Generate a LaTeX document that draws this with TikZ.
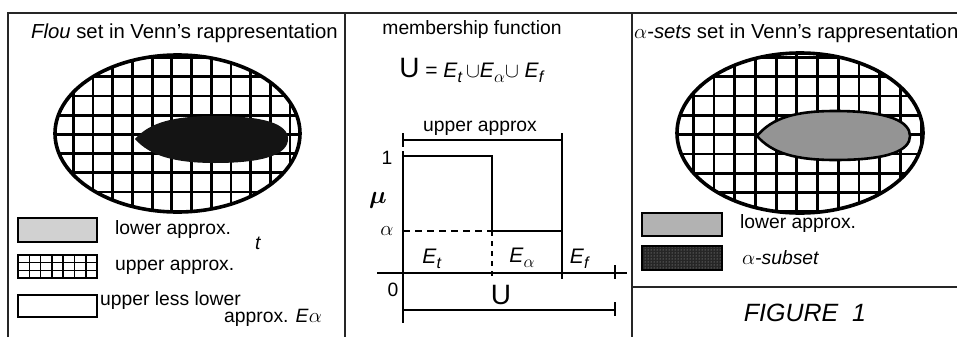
\documentclass[tikz,border=0pt]{standalone}
\usepackage{fontspec}
\setmainfont{Liberation Sans}
\usetikzlibrary{patterns}
\newcommand\subsc[1]{\raisebox{-0.45ex}{\fontsize{16}{16}\selectfont #1}}
\begin{document}
\begin{tikzpicture}[x=1pt,y=-1pt,
  frame/.style={line width=2.4pt, black!85},
  gridln/.style={line width=2.8pt},
  rim/.style={line width=3.6pt},
  axln/.style={line width=1.5pt},
  txt/.style={font=\fontsize{19.3}{22}\selectfont, inner sep=0pt},
  ttl/.style={font=\fontsize{20.3}{23}\selectfont, inner sep=0pt},
  lbl/.style={font=\fontsize{21}{23}\selectfont, inner sep=0pt},
  bigtxt/.style={font=\fontsize{21}{24}\selectfont, inner sep=0pt},
  lbox/.style={draw=black, line width=1.6pt}]
\useasboundingbox (0,0) rectangle (957,337);
% frame
\draw[frame] (8,337) -- (8,13) -- (957,13);
\draw[frame] (345,13) -- (345,337);
\draw[frame] (632,13) -- (632,337);
\draw[frame] (632,287) -- (957,287);

% ---------- panel 1 ----------
\node[ttl, anchor=west] (t1) at (31,33) {\textit{Flou} set in Venn's rappresentation};
\begin{scope}
  \clip (177.5,133.5) ellipse [x radius=122.5, y radius=78.5];
  \foreach \i in {-1,...,12} \draw[gridln] ({73.3+19.7*\i},50) -- ++(0,170);
  \foreach \j in {-2,...,8} \draw[gridln] (50,{76.7+19.2*\j}) -- ++(260,0);
\end{scope}
\fill[black!92] (135,139) .. controls (150,122) and (175,116) .. (215,116) .. controls (265,116) and (288,124) .. (288,139) .. controls (288,154) and (265,163) .. (215,163) .. controls (175,163) and (150,156) .. (135,139) -- cycle;
\draw[rim] (177.5,133.5) ellipse [x radius=122.5, y radius=78.5];

\filldraw[lbox, fill=black!18] (18,218) rectangle (97,242);
\node[txt, anchor=west] (l1) at (115,230) {lower approx.};
\node[txt, anchor=west] (l1t) at (255,243) {\textit{t}};
\draw[lbox] (18,255) rectangle (97,278);
\foreach \i in {1,...,6} \draw[line width=1.5pt] ({18+11.3*\i},255) -- ++(0,23);
\foreach \j in {1,2} \draw[line width=1.5pt] (18,{255+7.67*\j}) -- ++(79,0);
\node[txt, anchor=west] (l2) at (115,267) {upper approx.};
\draw[lbox] (18,295) rectangle (97,317);
\node[txt, anchor=west] (l3) at (100,301) {upper less lower};
\node[txt, anchor=east] (l3b) at (322,318) {approx. \textit{E}$\alpha$};

% ---------- panel 2 ----------
\node[txt] (mf) at (472,30) {membership function};
\node[bigtxt] (eq) at (472,70) {{\fontsize{28}{28}\selectfont U} = \textit{E}\subsc{\textit{t}}$\,\cup$\textit{E}\subsc{$\alpha$}$\cup$ \textit{E}\subsc{\textit{f}}};
\node[txt] (ua) at (480,128) {upper approx};
\coordinate (bl) at (403,140);
\coordinate (br) at (562,140);
\draw[axln] (bl) -- (br);
\draw[axln] (403,133) -- (403,147);
\draw[axln] (562,133) -- (562,273);
\coordinate (p1) at (403,156);
\coordinate (q1) at (492,156);
\coordinate (qa) at (492,231);
\coordinate (ra) at (562,231);
\draw[axln] (403,151) -- (403,323);
\draw[axln] (p1) -- (q1) -- (qa) -- (ra);
\draw[axln, dash pattern=on 7pt off 5pt] (403,231) -- (qa);
\draw[axln, dash pattern=on 5pt off 5pt] (qa) -- (492,278);
\draw[line width=2pt] (377,273) -- (627,273);
\draw[axln] (562,267) -- (562,279);
\draw[axln] (615,265) -- (615,279);
\draw[axln] (403,310) -- (615,310);
\draw[axln] (615,302) -- (615,316);
\node[txt] (one) at (387,158) {1};
\node[font=\fontsize{30}{30}\selectfont\boldmath, inner sep=0pt] (mu) at (378,200) {$\mu$};
\node[lbl] (al) at (387,231) {$\alpha$};
\node[txt] (zero) at (393,290) {0};
\node[font=\fontsize{28}{28}\selectfont, inner sep=0pt] (uu) at (501,295) {U};
\node[lbl] (et) at (432,259) {\textit{E}\subsc{\textit{t}}};
\node[lbl] (ea) at (522,258) {\textit{E}\subsc{$\alpha$}};
\node[lbl] (ef) at (580,259) {\textit{E}\subsc{\textit{f}}};

% ---------- panel 3 ----------
\node[ttl, anchor=west] (t3) at (634,33) {$\alpha$-\textit{sets} set in Venn's rappresentation};
\begin{scope}
  \clip (800,133) ellipse [x radius=123, y radius=80];
  \foreach \i in {-2,...,12} \draw[gridln] ({693.3+20.7*\i},50) -- ++(0,170);
  \foreach \j in {-2,...,8} \draw[gridln] (670,{76.7+19.3*\j}) -- ++(260,0);
\end{scope}
\filldraw[fill=black!42, draw=black, line width=2.6pt] (757,136) .. controls (772,118) and (795,111) .. (835,111) .. controls (890,111) and (910,122) .. (910,136) .. controls (910,150) and (890,160) .. (835,160) .. controls (795,160) and (772,153) .. (757,136) -- cycle;
\draw[rim] (800,133) ellipse [x radius=123, y radius=80];

\filldraw[lbox, fill=black!30] (642,213) rectangle (722,236);
\node[txt, anchor=west] (r1) at (740,224) {lower approx.};
\fill[black!85] (642,246) rectangle (722,270);
\fill[pattern=dots, pattern color=white!70!black] (642,246) rectangle (722,270);
\draw[lbox] (642,246) rectangle (722,270);
\node[txt, anchor=west] (r2) at (742,258) {$\alpha$-\textit{subset}};
\node[font=\fontsize{25}{28}\selectfont\itshape, inner sep=0pt] (fig) at (805,313) {FIGURE\ \ 1};
\end{tikzpicture}
\end{document}
